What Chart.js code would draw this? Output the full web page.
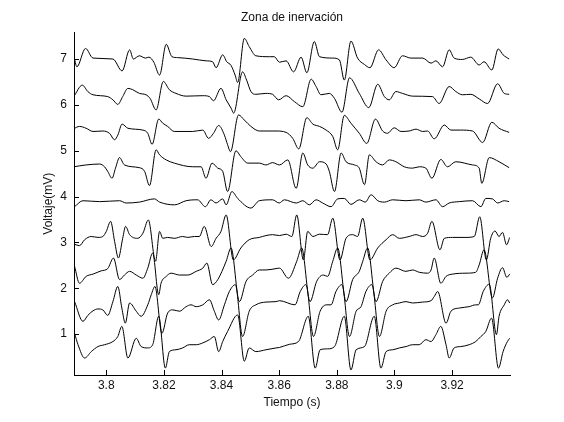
<!DOCTYPE html>
<html>
<head>
<meta charset="utf-8">
<script src="https://cdn.jsdelivr.net/npm/chart.js@4.4.1/dist/chart.umd.min.js"></script>
<style>
  html, body { margin: 0; padding: 0; background: #fff; }
</style>
</head>
<body>
<canvas id="chart" width="564" height="422"></canvas>
<script>
const xTicks = [3.8, 3.82, 3.84, 3.86, 3.88, 3.9, 3.92];
const yTicks = [1, 2, 3, 4, 5, 6, 7];

// one array per channel, [time (s), voltage (mV)], top channel first
const traceA = [[3.7887,7.09],[3.7898,6.83],[3.7928,7.23],[3.7954,7.02],[3.8023,7.00],[3.8055,6.74],[3.8081,7.20],[3.8094,7.00],[3.8115,7.07],[3.8136,7.02],[3.8148,7.04],[3.8165,6.93],[3.8185,6.65],[3.8208,7.32],[3.8228,7.05],[3.8248,7.03],[3.8300,7.00],[3.8346,6.96],[3.8369,6.94],[3.8381,6.81],[3.8404,7.09],[3.8418,6.94],[3.8433,6.86],[3.8447,6.65],[3.8456,6.49],[3.8479,7.45],[3.8496,7.27],[3.8519,7.07],[3.8566,7.05],[3.8583,7.05],[3.8601,6.93],[3.8624,6.96],[3.8650,6.72],[3.8676,7.04],[3.8696,6.70],[3.8722,7.38],[3.8740,7.05],[3.8786,7.02],[3.8809,6.98],[3.8826,6.54],[3.8849,7.39],[3.8872,7.02],[3.8896,6.88],[3.8915,6.81],[3.8945,7.20],[3.8971,6.98],[3.8999,6.81],[3.9028,7.07],[3.9057,7.02],[3.9098,7.02],[3.9127,6.91],[3.9144,6.96],[3.9167,6.83],[3.9190,7.20],[3.9207,7.02],[3.9236,6.99],[3.9265,7.04],[3.9294,6.87],[3.9311,6.94],[3.9338,6.76],[3.9360,7.22],[3.9377,7.09],[3.9398,7.00]];
const traceB = [[3.7887,6.18],[3.7917,6.43],[3.7936,6.29],[3.7954,6.22],[3.8005,6.18],[3.8023,6.11],[3.8040,6.01],[3.8057,6.18],[3.8075,6.36],[3.8092,6.33],[3.8115,6.25],[3.8138,6.22],[3.8152,6.14],[3.8173,5.89],[3.8198,6.51],[3.8219,6.33],[3.8242,6.25],[3.8277,6.19],[3.8335,6.20],[3.8358,6.18],[3.8372,6.09],[3.8398,6.36],[3.8416,6.11],[3.8433,5.93],[3.8442,5.82],[3.8473,6.72],[3.8487,6.54],[3.8502,6.29],[3.8519,6.23],[3.8554,6.25],[3.8577,6.23],[3.8598,6.11],[3.8624,6.20],[3.8653,6.07],[3.8682,5.96],[3.8711,6.56],[3.8728,6.40],[3.8745,6.22],[3.8774,6.25],[3.8792,6.14],[3.8818,5.84],[3.8844,6.59],[3.8878,6.25],[3.8911,5.94],[3.8942,6.45],[3.8965,6.18],[3.8982,6.11],[3.9005,6.29],[3.9028,6.25],[3.9063,6.19],[3.9132,6.18],[3.9155,6.03],[3.9190,6.40],[3.9213,6.29],[3.9236,6.22],[3.9265,6.23],[3.9294,6.13],[3.9323,6.03],[3.9358,6.46],[3.9381,6.25],[3.9398,6.23]];
const traceC = [[3.7887,5.48],[3.7907,5.53],[3.7930,5.49],[3.7954,5.42],[3.7988,5.43],[3.8011,5.38],[3.8029,5.24],[3.8040,5.34],[3.8055,5.58],[3.8075,5.49],[3.8127,5.45],[3.8144,5.38],[3.8159,5.14],[3.8182,5.69],[3.8196,5.60],[3.8213,5.53],[3.8236,5.42],[3.8300,5.42],[3.8335,5.45],[3.8355,5.27],[3.8372,5.38],[3.8390,5.55],[3.8410,5.34],[3.8421,5.13],[3.8431,4.98],[3.8459,5.78],[3.8479,5.67],[3.8502,5.53],[3.8531,5.43],[3.8589,5.43],[3.8624,5.40],[3.8647,5.27],[3.8668,5.04],[3.8696,5.72],[3.8717,5.58],[3.8740,5.53],[3.8763,5.45],[3.8786,5.31],[3.8803,5.02],[3.8826,5.77],[3.8849,5.60],[3.8878,5.38],[3.8904,5.16],[3.8934,5.69],[3.8959,5.43],[3.8976,5.38],[3.8999,5.50],[3.9023,5.42],[3.9051,5.43],[3.9075,5.47],[3.9098,5.42],[3.9115,5.43],[3.9138,5.26],[3.9173,5.56],[3.9196,5.45],[3.9230,5.45],[3.9271,5.43],[3.9306,5.18],[3.9338,5.62],[3.9363,5.49],[3.9398,5.40]];
const traceD = [[3.7887,4.65],[3.7930,4.69],[3.7977,4.71],[3.7994,4.65],[3.8005,4.55],[3.8020,4.40],[3.8032,4.62],[3.8046,4.85],[3.8063,4.69],[3.8115,4.63],[3.8133,4.55],[3.8150,4.24],[3.8173,5.02],[3.8185,4.91],[3.8208,4.80],[3.8236,4.73],[3.8300,4.65],[3.8329,4.65],[3.8346,4.40],[3.8367,4.73],[3.8387,4.62],[3.8404,4.55],[3.8421,4.11],[3.8450,5.00],[3.8467,4.87],[3.8491,4.73],[3.8531,4.73],[3.8554,4.69],[3.8577,4.74],[3.8601,4.69],[3.8630,4.80],[3.8659,4.18],[3.8682,4.95],[3.8699,4.69],[3.8717,4.62],[3.8740,4.76],[3.8763,4.71],[3.8774,4.55],[3.8792,4.11],[3.8815,4.95],[3.8832,4.76],[3.8861,4.69],[3.8878,4.62],[3.8896,4.26],[3.8913,4.91],[3.8936,4.76],[3.8959,4.69],[3.8982,4.80],[3.9005,4.76],[3.9034,4.65],[3.9063,4.62],[3.9086,4.65],[3.9109,4.62],[3.9130,4.40],[3.9161,4.81],[3.9184,4.65],[3.9213,4.76],[3.9271,4.69],[3.9294,4.62],[3.9303,4.29],[3.9329,4.85],[3.9363,4.76],[3.9398,4.63]];
const traceE = [[3.7890,3.78],[3.7919,3.91],[3.7977,3.89],[3.8046,3.91],[3.8069,3.86],[3.8115,3.88],[3.8167,3.95],[3.8185,3.88],[3.8237,3.82],[3.8277,3.91],[3.8317,3.93],[3.8344,3.78],[3.8363,3.93],[3.8381,3.86],[3.8404,3.95],[3.8416,3.82],[3.8436,4.11],[3.8456,3.96],[3.8502,3.75],[3.8531,3.91],[3.8577,3.93],[3.8600,3.86],[3.8618,3.93],[3.8659,3.86],[3.8682,3.91],[3.8705,3.82],[3.8728,3.93],[3.8751,3.86],[3.8780,3.78],[3.8803,3.95],[3.8826,3.96],[3.8849,3.83],[3.8878,3.93],[3.8899,3.88],[3.8919,4.04],[3.8942,3.91],[3.8965,3.88],[3.8994,3.93],[3.9040,3.91],[3.9086,3.93],[3.9109,3.88],[3.9144,3.93],[3.9167,3.78],[3.9190,3.86],[3.9225,3.89],[3.9271,3.91],[3.9300,3.78],[3.9317,3.96],[3.9340,3.95],[3.9358,3.86],[3.9381,3.91],[3.9398,3.89]];
const traceF = [[3.7890,2.96],[3.7907,2.93],[3.7925,3.06],[3.7948,3.13],[3.7971,3.11],[3.7988,3.13],[3.8000,3.24],[3.8015,3.46],[3.8029,3.02],[3.8042,2.66],[3.8057,3.09],[3.8067,3.35],[3.8081,3.17],[3.8109,3.09],[3.8127,3.20],[3.8146,3.49],[3.8171,2.59],[3.8185,3.24],[3.8196,3.09],[3.8213,3.11],[3.8236,3.09],[3.8265,3.13],[3.8283,3.11],[3.8306,3.13],[3.8323,3.13],[3.8340,3.35],[3.8364,2.91],[3.8381,3.09],[3.8398,3.24],[3.8416,3.60],[3.8441,2.62],[3.8467,2.88],[3.8496,3.06],[3.8531,3.11],[3.8554,3.15],[3.8577,3.17],[3.8601,3.15],[3.8624,3.18],[3.8644,3.13],[3.8661,3.60],[3.8684,2.62],[3.8699,3.24],[3.8717,3.13],[3.8740,3.18],[3.8768,3.17],[3.8786,3.53],[3.8811,2.62],[3.8832,3.09],[3.8855,3.17],[3.8872,3.13],[3.8890,3.53],[3.8915,2.62],[3.8942,2.88],[3.8971,3.06],[3.8994,3.17],[3.9017,3.09],[3.9051,3.13],[3.9075,3.17],[3.9098,3.13],[3.9115,3.20],[3.9130,3.46],[3.9158,2.84],[3.9173,3.09],[3.9202,3.11],[3.9248,3.11],[3.9277,3.13],[3.9296,3.56],[3.9319,2.62],[3.9334,3.09],[3.9349,3.25],[3.9363,3.13],[3.9375,3.22],[3.9389,2.95],[3.9400,3.11]];
const traceG = [[3.7890,2.48],[3.7907,2.11],[3.7930,2.26],[3.7954,2.31],[3.7982,2.38],[3.8005,2.43],[3.8025,2.66],[3.8046,2.19],[3.8063,2.29],[3.8081,2.37],[3.8104,2.29],[3.8127,2.22],[3.8144,2.44],[3.8161,2.77],[3.8182,1.86],[3.8190,2.11],[3.8208,2.26],[3.8225,2.33],[3.8254,2.29],[3.8283,2.29],[3.8312,2.37],[3.8335,2.44],[3.8349,2.55],[3.8369,2.08],[3.8387,2.19],[3.8416,2.59],[3.8433,2.88],[3.8462,1.71],[3.8485,2.15],[3.8508,2.29],[3.8531,2.40],[3.8554,2.40],[3.8589,2.43],[3.8601,2.44],[3.8632,2.22],[3.8661,2.59],[3.8678,2.88],[3.8707,1.71],[3.8730,2.15],[3.8753,2.29],[3.8768,2.26],[3.8786,2.59],[3.8803,2.88],[3.8832,1.71],[3.8855,2.19],[3.8878,2.37],[3.8890,2.59],[3.8907,2.88],[3.8936,1.71],[3.8959,2.15],[3.8982,2.33],[3.9005,2.44],[3.9040,2.37],[3.9063,2.40],[3.9086,2.35],[3.9115,2.33],[3.9127,2.40],[3.9138,2.66],[3.9161,2.11],[3.9179,2.26],[3.9202,2.31],[3.9248,2.33],[3.9282,2.35],[3.9294,2.51],[3.9311,2.84],[3.9340,1.79],[3.9358,2.22],[3.9375,2.45],[3.9390,2.24],[3.9400,2.31]];
const traceH = [[3.7890,1.71],[3.7919,1.28],[3.7936,1.41],[3.7954,1.51],[3.7971,1.55],[3.7988,1.53],[3.8005,1.41],[3.8023,1.71],[3.8040,2.04],[3.8054,1.57],[3.8066,1.24],[3.8081,1.68],[3.8104,1.50],[3.8121,1.39],[3.8144,1.64],[3.8156,1.86],[3.8169,2.04],[3.8193,1.02],[3.8213,1.46],[3.8231,1.53],[3.8254,1.50],[3.8277,1.60],[3.8294,1.64],[3.8312,1.60],[3.8335,1.64],[3.8358,1.75],[3.8375,1.50],[3.8390,1.31],[3.8410,1.64],[3.8427,1.93],[3.8448,2.08],[3.8473,0.95],[3.8496,1.50],[3.8519,1.64],[3.8554,1.70],[3.8589,1.71],[3.8601,1.73],[3.8655,1.64],[3.8673,1.93],[3.8693,2.08],[3.8719,0.95],[3.8742,1.50],[3.8765,1.64],[3.8780,1.64],[3.8797,1.93],[3.8818,2.08],[3.8844,0.95],[3.8867,1.50],[3.8884,1.60],[3.8901,1.93],[3.8922,2.08],[3.8948,0.95],[3.8971,1.50],[3.8994,1.64],[3.9017,1.68],[3.9040,1.71],[3.9063,1.68],[3.9098,1.70],[3.9127,1.73],[3.9138,1.82],[3.9150,1.93],[3.9179,1.24],[3.9196,1.50],[3.9225,1.57],[3.9259,1.60],[3.9282,1.64],[3.9291,1.64],[3.9308,1.93],[3.9329,2.09],[3.9354,0.99],[3.9363,1.39],[3.9381,1.64],[3.9392,1.75],[3.9400,1.68]];
const traceI = [[3.7890,1.02],[3.7902,0.77],[3.7925,0.48],[3.7948,0.62],[3.7971,0.73],[3.7994,0.77],[3.8023,0.84],[3.8040,0.95],[3.8054,1.17],[3.8075,0.48],[3.8104,0.91],[3.8121,0.73],[3.8144,0.70],[3.8161,0.77],[3.8182,1.39],[3.8205,0.26],[3.8219,0.62],[3.8242,0.66],[3.8265,0.70],[3.8288,0.77],[3.8312,0.77],[3.8335,0.81],[3.8358,0.88],[3.8375,0.95],[3.8390,0.62],[3.8404,0.84],[3.8421,1.06],[3.8456,1.42],[3.8479,0.41],[3.8496,0.70],[3.8519,0.62],[3.8554,0.66],[3.8589,0.70],[3.8601,0.71],[3.8636,0.78],[3.8667,0.84],[3.8701,1.39],[3.8725,0.26],[3.8742,0.66],[3.8768,0.68],[3.8792,0.73],[3.8826,1.39],[3.8849,0.22],[3.8867,0.66],[3.8896,0.73],[3.8930,1.39],[3.8953,0.26],[3.8971,0.62],[3.8994,0.66],[3.9017,0.70],[3.9040,0.73],[3.9063,0.77],[3.9086,0.77],[3.9109,0.88],[3.9127,0.84],[3.9144,0.99],[3.9161,1.17],[3.9179,0.77],[3.9190,0.48],[3.9207,0.70],[3.9230,0.73],[3.9259,0.77],[3.9282,0.84],[3.9300,0.95],[3.9317,1.06],[3.9337,1.35],[3.9361,0.26],[3.9377,0.62],[3.9392,0.84],[3.9400,0.91]];

const traces = [traceA, traceB, traceC, traceD, traceE, traceF, traceG, traceH, traceI];

const fontFamily = "'Liberation Sans', Arial, Helvetica, sans-serif";
const textColor = "#111";

// matlab style: tick marks point into the plot
const inwardTicks = {
  id: "inwardTicks",
  afterDraw(chart) {
    const { ctx, chartArea, scales } = chart;
    ctx.save();
    ctx.strokeStyle = "#000";
    ctx.lineWidth = 1;
    ctx.beginPath();
    xTicks.forEach((value) => {
      const px = Math.round(scales.x.getPixelForValue(value)) + 0.5;
      ctx.moveTo(px, chartArea.bottom);
      ctx.lineTo(px, chartArea.bottom - 5);
    });
    yTicks.forEach((value) => {
      const py = Math.round(scales.y.getPixelForValue(value)) + 0.5;
      ctx.moveTo(chartArea.left, py);
      ctx.lineTo(chartArea.left + 5, py);
    });
    ctx.stroke();
    ctx.restore();
  }
};

new Chart(document.getElementById("chart"), {
  type: "line",
  data: {
    datasets: traces.map((trace) => ({
      data: trace.map(([x, y]) => ({ x, y })),
      borderColor: "#000",
      borderWidth: 1,
      pointRadius: 0,
      fill: false,
      cubicInterpolationMode: "monotone"
    }))
  },
  options: {
    responsive: false,
    animation: false,
    devicePixelRatio: 1,
    layout: {
      padding: { left: 0, right: 54, top: 0, bottom: 0 }
    },
    plugins: {
      legend: { display: false },
      tooltip: { enabled: false },
      title: {
        display: true,
        text: "Zona de inervación",
        fullSize: false,
        color: textColor,
        font: { family: fontFamily, size: 12, weight: "normal" },
        padding: { top: 10, bottom: 8 }
      }
    },
    scales: {
      x: {
        type: "linear",
        min: 3.7888,
        max: 3.9401,
        afterBuildTicks: (scale) => {
          scale.ticks = xTicks.map((value) => ({ value }));
        },
        afterFit: (scale) => {
          scale.height = 47;
        },
        grid: { display: false, drawTicks: false, tickLength: 0 },
        border: { display: true, color: "#000", width: 1 },
        ticks: {
          color: textColor,
          font: { family: fontFamily, size: 12 },
          padding: 3,
          maxRotation: 0,
          autoSkip: false,
          callback: (value) => String(+value.toFixed(2))
        },
        title: {
          display: true,
          text: "Tiempo (s)",
          color: textColor,
          font: { family: fontFamily, size: 12 },
          padding: { top: 0, bottom: 12 }
        }
      },
      y: {
        type: "linear",
        min: 0.11,
        max: 7.58,
        afterBuildTicks: (scale) => {
          scale.ticks = yTicks.map((value) => ({ value }));
        },
        afterFit: (scale) => {
          scale.width = 74;
        },
        grid: { display: false, drawTicks: false, tickLength: 0 },
        border: { display: true, color: "#000", width: 1 },
        ticks: {
          color: textColor,
          font: { family: fontFamily, size: 12 },
          padding: 7,
          callback: (value) => String(value)
        },
        title: {
          display: true,
          text: "Voltaje(mV)",
          color: textColor,
          font: { family: fontFamily, size: 12 },
          padding: { top: 41, bottom: 0 }
        }
      }
    }
  },
  plugins: [inwardTicks]
});
</script>
</body>
</html>
